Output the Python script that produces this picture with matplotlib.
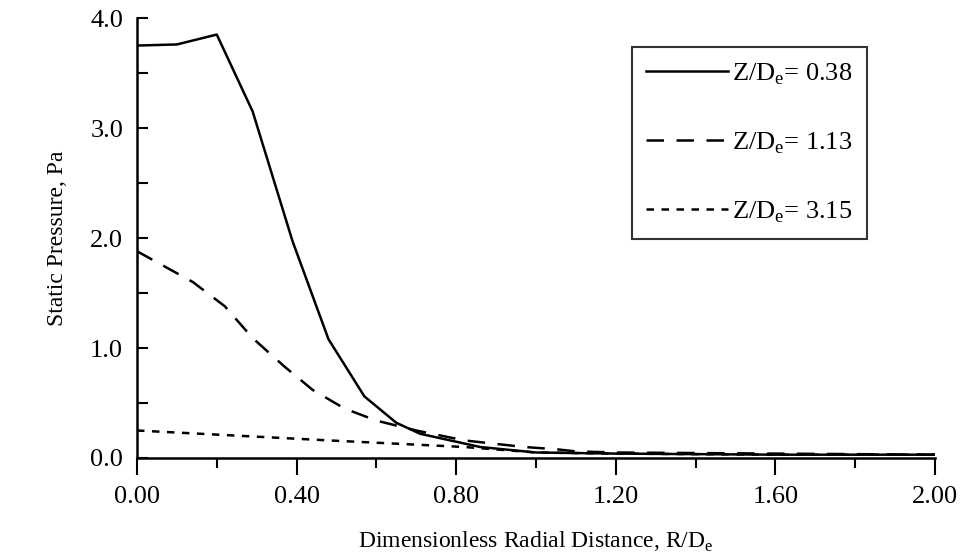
import numpy as np
import matplotlib
matplotlib.use("Agg")
import matplotlib.pyplot as plt
from matplotlib.ticker import MultipleLocator

plt.rcParams['font.family'] = ['Liberation Serif', 'DejaVu Serif']
plt.rcParams['mathtext.fontset'] = 'custom'
plt.rcParams['mathtext.rm'] = 'Liberation Serif'

# Z/De = 0.38
r1 = [0.0, 0.10, 0.20, 0.29, 0.39, 0.48, 0.57, 0.65, 0.71, 0.86, 1.0, 1.2, 1.6, 2.0]
p1 = [3.75, 3.76, 3.85, 3.15, 1.97, 1.08, 0.56, 0.32, 0.22, 0.10, 0.05, 0.04, 0.03, 0.03]
# Z/De = 1.13
r2 = [0.0, 0.14, 0.22, 0.29, 0.37, 0.44, 0.52, 0.60, 0.70, 0.82, 0.97, 1.05, 1.1, 1.2, 1.6, 2.0]
p2 = [1.88, 1.60, 1.38, 1.09, 0.83, 0.62, 0.45, 0.34, 0.25, 0.16, 0.10, 0.08, 0.06, 0.05, 0.04, 0.03]
# Z/De = 3.15
r3 = [0.0, 0.32, 0.48, 0.65, 0.82, 1.0, 1.2, 1.6, 2.0]
p3 = [0.25, 0.19, 0.16, 0.13, 0.10, 0.05, 0.04, 0.03, 0.03]

labels = [r'Z/D$_\mathregular{e}$= 0.38', r'Z/D$_\mathregular{e}$= 1.13', r'Z/D$_\mathregular{e}$= 3.15']

fig = plt.figure(figsize=(9.66, 5.59), dpi=100)
ax = fig.add_axes([0.1418, 0.1807, 0.826, 0.787])

ax.plot(r1, p1, color='black', lw=1.8, ls='-', label=labels[0])
ax.plot(r2, p2, color='black', lw=1.8, ls=(0, (7, 5)), label=labels[1])
ax.plot(r3, p3, color='black', lw=1.8, ls=(0, (3, 3)), label=labels[2])

ax.set_xlim(0, 2.0)
ax.set_ylim(0, 4.0)
ax.spines['top'].set_visible(False)
ax.spines['right'].set_visible(False)
ax.spines['left'].set_linewidth(1.8)
ax.spines['bottom'].set_linewidth(1.8)

ax.xaxis.set_major_locator(MultipleLocator(0.4))
ax.xaxis.set_minor_locator(MultipleLocator(0.2))
ax.yaxis.set_major_locator(MultipleLocator(1.0))
ax.yaxis.set_minor_locator(MultipleLocator(0.5))
ax.xaxis.set_major_formatter(lambda v, pos: f'{v:.2f}')
ax.yaxis.set_major_formatter(lambda v, pos: f'{v:.1f}')
ax.tick_params(axis='x', which='major', direction='out', length=12, width=1.5, labelsize=19, pad=8)
ax.tick_params(axis='x', which='minor', direction='out', length=7, width=1.5)
ax.tick_params(axis='y', which='major', direction='in', length=8, width=1.5, labelsize=19, pad=10)
ax.tick_params(axis='y', which='minor', direction='in', length=8, width=1.5)

ax.set_xlabel(r'Dimensionless Radial Distance, R/D$_\mathregular{e}$', fontsize=17, labelpad=16)
ax.set_ylabel('Static Pressure, Pa', fontsize=17, labelpad=16)

leg = ax.legend(loc='upper right', bbox_to_anchor=(0.915, 0.935), fontsize=19,
                frameon=True, fancybox=False, edgecolor='black', handlelength=3.1,
                handletextpad=0.15, labelspacing=1.65, borderpad=0.55, borderaxespad=0)
leg.get_frame().set_linewidth(1.5)

fig.savefig('out.png', dpi=100)
